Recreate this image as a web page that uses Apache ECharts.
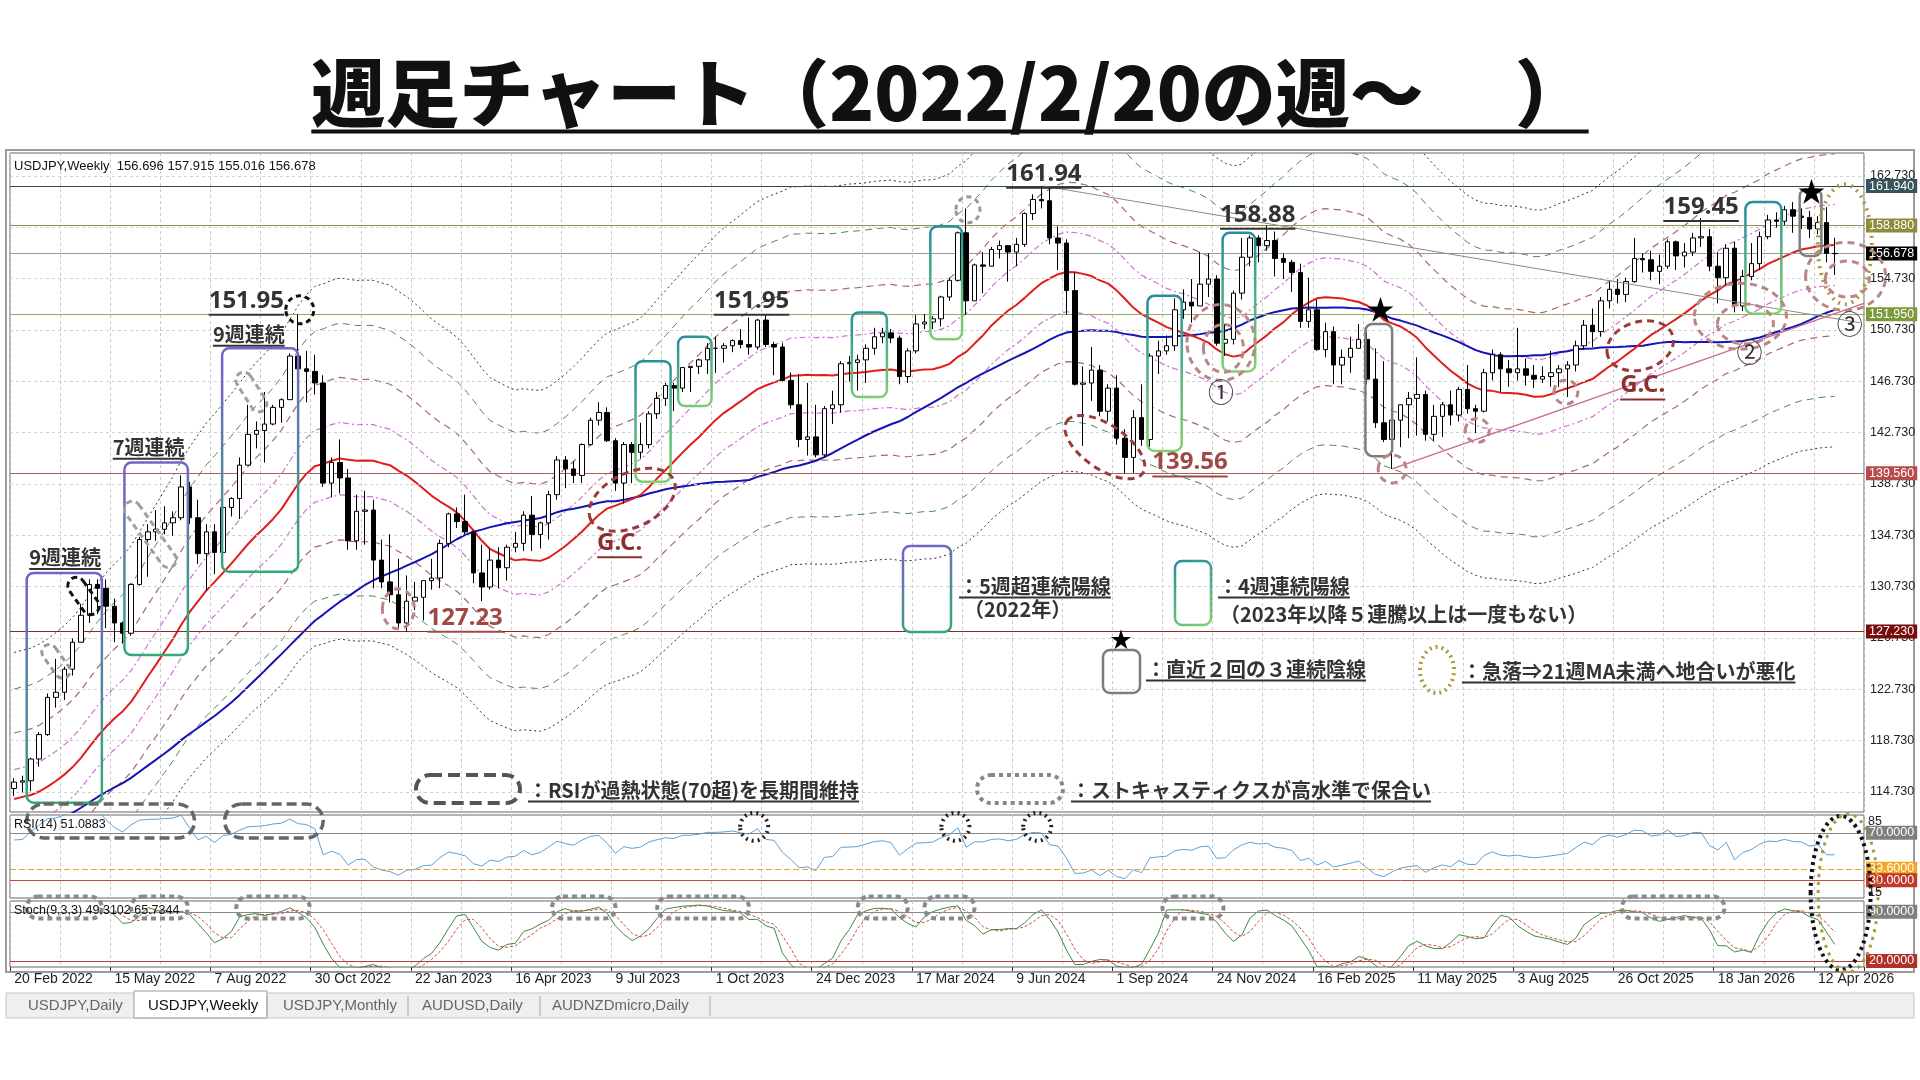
<!DOCTYPE html>
<html><head><meta charset="utf-8">
<script src="https://cdn.jsdelivr.net/npm/echarts@6/dist/echarts.min.js"></script>
<style>html,body{margin:0;padding:0;background:#fff}#c{width:1920px;height:1080px}</style>
</head><body><div id="c"></div>
<script>
// ---------- DATA ----------
const priorCloses=[105.6,108.3,109.0,108.9,109.6,110.3,109.7,108.8,107.9,109.3,108.6,109.4,108.9,109.8,109.5,109.7,110.2,110.8,111.1,110.1,110.1,110.5,109.7,110.2,109.6,109.8,109.8,109.7,109.9,109.9,110.7,111.0,112.2,114.2,113.5,114.0,113.4,113.9,114.0,113.4,112.8,113.4,113.7,114.4,115.1,115.6,114.2,113.7,115.3,115.2,115.4,115.0];
const closes=[115.5,115.6,117.3,119.2,122.1,122.5,124.3,126.4,128.5,130.9,
130.6,129.2,127.9,127.1,130.9,134.4,135.0,135.2,135.7,136.1,
138.5,136.1,133.3,135.0,133.4,136.9,137.6,140.2,142.6,142.9,
143.4,144.7,145.3,148.7,147.7,147.5,146.6,138.8,140.4,139.2,
134.3,136.6,136.7,132.8,131.1,
130.1,127.9,129.6,129.9,131.2,131.4,134.1,136.4,135.8,135.0,
131.8,130.7,132.8,132.2,133.8,134.1,136.3,134.8,135.7,137.9,
140.6,139.9,139.4,141.8,143.7,144.3,142.1,138.8,141.8,141.2,
141.8,144.2,145.4,146.4,146.2,147.8,147.9,148.4,149.3,149.3,
149.5,149.9,149.6,149.4,151.5,149.6,149.4,146.8,144.9,142.2,
142.4,141.0,144.6,
144.9,148.1,148.2,148.4,149.3,150.2,150.5,150.1,147.1,149.1,
151.2,151.35,151.6,153.3,154.6,158.3,153.0,155.8,155.7,157.0,
157.3,156.8,157.4,159.8,160.9,160.8,157.9,157.5,153.8,146.5,
146.6,147.6,144.4,146.2,142.3,140.8,143.9,142.2,148.7,149.1,
149.5,152.3,152.9,152.6,154.3,154.7,149.7,150.0,153.6,156.4,
157.9,157.3,
157.7,156.3,156.0,155.2,151.4,152.3,149.2,150.6,148.0,148.6,
149.3,150.0,146.9,143.5,142.2,143.7,144.9,145.4,145.7,142.6,
144.0,144.9,144.1,146.1,144.6,144.4,147.4,148.8,147.7,147.4,
147.7,147.2,146.9,147.1,147.4,147.7,148.0,149.5,
151.1,150.6,153.0,153.9,153.5,154.5,156.3,156.2,155.3,155.7,
157.6,156.5,156.8,157.9,158.0,155.7,154.8,157.1,152.6,154.9,
155.9,158.0,159.3,159.2,160.1,159.6,159.5,158.6,159.1,156.696,156.678];
const highs=[115.8,116.0,117.4,119.4,122.4,125.1,124.5,126.7,129.4,131.3,
131.3,131.3,129.8,128.0,131.0,134.6,135.6,136.7,137.0,136.6,
139.4,138.9,137.5,135.6,135.6,137.0,137.7,140.8,144.9,143.6,
145.9,144.9,145.4,148.9,151.95,149.1,148.8,147.2,140.8,142.2,
139.9,137.9,138.2,137.5,134.4,
134.8,132.9,131.6,131.1,131.2,132.9,134.4,136.5,136.9,137.9,
135.1,134.0,133.7,133.8,134.0,135.0,136.6,137.8,135.8,138.2,
140.9,140.9,140.5,141.9,143.9,145.1,144.7,142.3,142.0,142.0,
143.5,144.4,145.9,146.6,146.6,147.8,147.9,148.5,149.7,150.2,
149.7,150.0,150.8,151.7,151.6,151.95,149.8,149.7,147.4,147.3,
146.6,144.9,144.8,
146.0,148.3,148.7,148.8,149.6,150.9,150.9,150.8,150.3,149.3,
151.9,151.97,151.8,153.4,154.8,158.4,160.2,155.9,156.8,157.2,
157.7,157.3,157.9,159.9,161.3,161.94,161.8,158.8,157.8,155.2,
147.9,149.4,148.0,146.5,147.2,143.0,144.5,146.5,148.9,149.9,
150.3,153.2,153.9,154.7,156.8,156.7,155.0,151.2,153.8,157.9,
158.1,158.1,
158.88,158.4,156.7,156.2,155.9,154.8,153.1,151.3,151.0,149.2,
150.2,151.2,150.6,149.3,148.3,143.7,144.9,145.9,148.6,146.0,
144.9,145.1,146.0,146.3,148.0,144.9,147.7,149.2,149.0,148.4,
150.9,148.5,148.0,147.9,149.1,148.0,148.3,149.9,
151.5,152.4,153.3,154.5,154.7,154.8,157.9,156.7,156.9,156.6,
157.8,157.7,157.5,158.3,159.45,158.6,156.8,157.4,157.6,155.4,
157.5,158.4,159.7,159.9,160.4,160.7,160.2,160.0,159.6,160.3,157.915];
const lows=[114.4,114.7,114.8,116.7,119.1,121.3,121.9,123.8,126.5,127.9,
128.6,127.5,126.4,126.3,126.9,130.8,131.5,134.3,134.8,134.7,
135.9,135.6,132.5,130.4,131.7,132.6,136.2,136.0,140.2,141.5,
140.4,143.3,143.5,145.3,146.2,145.1,145.7,138.5,137.7,138.0,
133.6,133.6,134.0,130.6,130.6,
129.5,127.5,127.23,128.9,128.1,130.5,130.6,133.8,135.3,134.8,
131.0,129.6,130.5,130.6,131.2,133.4,133.5,133.5,133.7,134.4,
137.5,138.4,138.8,138.8,141.7,143.3,142.0,138.2,137.2,138.8,
140.7,141.5,143.8,144.8,144.4,145.9,145.9,147.3,147.3,147.4,
148.2,149.0,149.3,148.8,149.2,149.4,147.2,146.7,144.6,141.6,
140.95,140.8,140.8,
143.4,144.3,146.7,146.0,146.6,148.8,149.7,149.7,146.5,146.6,
148.9,150.8,150.8,151.0,153.0,154.5,151.9,153.1,153.6,155.7,
156.3,154.5,155.7,157.2,159.3,160.2,157.4,155.4,151.9,146.4,
141.7,145.2,144.0,143.6,141.8,139.56,139.6,141.7,141.6,147.3,
148.8,149.1,151.6,151.3,152.7,153.3,149.5,148.7,149.6,153.1,
155.7,156.0,
156.9,154.9,154.7,153.7,150.9,150.9,149.1,148.6,146.5,146.5,
147.4,149.4,146.5,143.1,142.0,139.9,141.6,142.3,142.5,142.1,
142.1,142.4,143.3,143.6,144.2,142.7,144.3,146.8,145.9,146.3,
146.8,146.4,146.2,146.6,146.3,146.3,145.5,147.5,
149.2,149.4,150.2,152.4,152.8,152.9,154.4,155.2,154.6,154.3,
155.5,155.4,155.6,156.5,157.2,155.3,152.8,154.2,152.1,152.2,
154.6,155.4,157.8,158.7,158.9,158.3,158.6,157.9,158.2,156.0,155.016];
const dateLabels=['20 Feb 2022','15 May 2022','7 Aug 2022','30 Oct 2022','22 Jan 2023','16 Apr 2023','9 Jul 2023','1 Oct 2023','24 Dec 2023','17 Mar 2024','9 Jun 2024','1 Sep 2024','24 Nov 2024','16 Feb 2025','11 May 2025','3 Aug 2025','26 Oct 2025','18 Jan 2026','12 Apr 2026'];
const priceTicks=[114.73,118.73,122.73,126.73,130.73,134.73,138.73,142.73,146.73,150.73,154.73,158.73,162.73];
const envelopePct=[2,4.5,7.5,10];
const levels=[{v:161.94,c:'#2f4f4f',bg:'#37545a'},{v:158.88,c:'#8f8f5a',bg:'#8c8c3c'},{v:156.678,c:'#999',bg:'#000'},{v:151.95,c:'#9aa860',bg:'#7c9a3a'},{v:139.56,c:'#a86060',bg:'#b84a4a'},{v:127.23,c:'#8a2a2a',bg:'#7a0c0c'}];
const SLOTS=222;
// ---------- INDICATORS ----------
const N=closes.length, P=priorCloses.length;
const allC=priorCloses.concat(closes);
const opens=closes.map((c,i)=>i===0?priorCloses[P-1]:closes[i-1]);
function sma(n,i){let s=0;for(let k=i+P-n+1;k<=i+P;k++)s+=allC[k];return s/n;}
const ma21=[],ma52=[];
for(let i=0;i<N;i++){ma21.push(sma(21,i));ma52.push(sma(52,i));}
const env=envelopePct.map(p=>({up:ma21.map(m=>m*(1+p/100)),dn:ma21.map(m=>m*(1-p/100))}));
// RSI 14 Wilder
const rsi=[];{let ag=0,al=0;for(let k=1;k<allC.length;k++){const d=allC[k]-allC[k-1];const g=Math.max(d,0),l=Math.max(-d,0);
if(k<=14){ag+=g/14;al+=l/14;}else{ag=(ag*13+g)/14;al=(al*13+l)/14;}
if(k>=P)rsi.push(al===0?100:100-100/(1+ag/al));}}
// Stoch 9,3,3
const H=closes.map((c,i)=>Math.max(highs[i],opens[i],c)),L=closes.map((c,i)=>Math.min(lows[i],opens[i],c));
const num=[],den=[],K=[],D=[];
for(let i=0;i<N;i++){if(i<8){num.push(null);den.push(null);continue;}let hh=-1e9,ll=1e9;for(let k=i-8;k<=i;k++){hh=Math.max(hh,H[k]);ll=Math.min(ll,L[k]);}num.push(closes[i]-ll);den.push(hh-ll);}
for(let i=0;i<N;i++){if(i<10){K.push(null);continue;}let a=0,b=0;for(let k=i-2;k<=i;k++){a+=num[k];b+=den[k];}K.push(100*a/b);}
for(let i=0;i<N;i++){if(i<12){D.push(null);continue;}D.push((K[i]+K[i-1]+K[i-2])/3);}
const candle=closes.map((c,i)=>[opens[i],c,L[i],H[i]]);
// ---------- CHART ----------
const cats=Array.from({length:SLOTS},(_,i)=>String(i));
const chart=echarts.init(document.getElementById('c'));
const F='"Noto Sans CJK JP","Noto Sans",sans-serif';
const grids=[{left:10,top:153,width:1854,height:659},{left:10,top:815,width:1854,height:83},{left:10,top:901,width:1854,height:66}];
const vsplit={show:true,interval:(i)=>i%6===0,lineStyle:{color:'#c8c8c8',type:[3,3],width:1}};
const xA=grids.map((g,gi)=>({type:'category',gridIndex:gi,data:cats,boundaryGap:true,axisLine:{show:false},axisTick:{show:gi===2,interval:(i)=>i%12===0,length:4,lineStyle:{color:'#333'}},
 axisLabel:{show:gi===2,interval:(i)=>i%12===0,formatter:(v,i)=>dateLabels[i/12]||'',align:'left',margin:5,fontSize:14,color:'#222',fontFamily:'Liberation Sans, Arial'},splitLine:vsplit}));
const yA=[{gridIndex:0,min:113.17,max:164.52,show:false},{gridIndex:1,min:15,max:85,show:false},{gridIndex:2,min:11.5,max:105.4,show:false}];
const mkLbl=(txt,bg,fg)=>({show:true,position:'end',formatter:txt,backgroundColor:bg,color:fg||'#fff',padding:[1,3,0,3],fontSize:12.5,distance:2,fontFamily:'Liberation Sans, Arial'});
const tickLines=priceTicks.map(v=>({yAxis:v,lineStyle:{color:'#d0d0d0',type:[3,3],width:1},label:{show:true,position:'end',formatter:v.toFixed(3),color:'#222',fontSize:12.5,distance:6,fontFamily:'Liberation Sans, Arial'}}));
const levelLines=levels.map(l=>({yAxis:l.v,lineStyle:{color:l.c,type:'solid',width:1.2},label:mkLbl(l.v.toFixed(3),l.bg)}));
const ln=(data,color,type,w,gi,z)=>({type:'line',data,xAxisIndex:gi||0,yAxisIndex:gi||0,symbol:'none',smooth:false,lineStyle:{color,type,width:w||1},z:z||2,silent:true,animation:false});
const envStyle=[['#d070d8',[6,3,2,3],1.2],['#a86a6a',[7,5],1.2],['#4b8a4b',[7,5],1],['#333',[2,3],1]];
const series=[{type:'line',data:[],xAxisIndex:0,yAxisIndex:0,z:1,markLine:{symbol:'none',silent:true,animation:false,data:tickLines}}];
env.forEach((e,k)=>{const s=envStyle[k];series.push(ln(e.up,s[0],s[1],s[2]),ln(e.dn,s[0],s[1],s[2]));});
series.push(
 ln(ma52,'#1414b4','solid',2,0,4),ln(ma21,'#e01c1c','solid',2,0,4),
 {type:'candlestick',data:candle,xAxisIndex:0,yAxisIndex:0,barWidth:5,z:5,animation:false,
  itemStyle:{color:'#fff',color0:'#000',borderColor:'#000',borderColor0:'#000',borderWidth:1},
  markLine:{symbol:'none',silent:true,animation:false,data:levelLines}},
 Object.assign(ln(rsi,'#5ba0d8','solid',1,1),{markLine:{symbol:'none',silent:true,animation:false,data:[
  {yAxis:70,lineStyle:{color:'#888',type:'solid',width:1.2},label:mkLbl('70.0000','#7f7f7f')},
  {yAxis:39.6,lineStyle:{color:'#f0a030',type:[6,3],width:1},label:mkLbl('39.6000','#f5a623')},
  {yAxis:30,lineStyle:{color:'#c04a4a',type:'solid',width:1},label:mkLbl('30.0000','#c0392b')}]}}),
 Object.assign(ln(K,'#3d8b3d','solid',1,2),{markLine:{symbol:'none',silent:true,animation:false,data:[
  {yAxis:90,lineStyle:{color:'#888',type:'solid',width:1.2},label:mkLbl('90.0000','#7f7f7f')},
  {yAxis:20,lineStyle:{color:'#b04040',type:'solid',width:1},label:mkLbl('20.0000','#b0302a')}]}}),
 ln(D,'#d04848',[3,2],1,2)
);
chart.setOption({animation:false,grid:grids.map(g=>Object.assign({show:true,borderColor:'#666',borderWidth:1},g)),xAxis:xA,yAxis:yA,series});

// ---------- ANNOTATIONS ----------
const ctx=document.createElement('canvas').getContext('2d');
const x0=chart.convertToPixel({xAxisIndex:0,yAxisIndex:0},[0,130])[0];
const dx=chart.convertToPixel({xAxisIndex:0,yAxisIndex:0},[1,130])[0]-x0;
const X=i=>x0+dx*i, Y=p=>chart.convertToPixel({xAxisIndex:0,yAxisIndex:0},[0,p])[1];
const G=[];
function T(x,y,text,o={}){const size=o.size||20,wt=o.weight||'bold',color=o.color||'#333',align=o.align||'left';const font=`${wt} ${size}px ${o.font||F}`;
 G.push({type:'text',x,y,z:60,style:{text,fill:color,font,align,verticalAlign:'middle'}});
 if(o.ul){ctx.font=font;const w=ctx.measureText(text).width;const xs=align==='center'?x-w/2:x;const yy=y+size*(o.ulo||0.58);
 G.push({type:'line',z:60,shape:{x1:xs,y1:yy,x2:xs+w,y2:yy},style:{stroke:color,lineWidth:o.ulw||2}});}}
function R(x1,y1,x2,y2,stroke,o={}){G.push({type:'rect',z:55,shape:{x:Math.min(x1,x2),y:Math.min(y1,y2),width:Math.abs(x2-x1),height:Math.abs(y2-y1),r:o.r||7},style:{fill:'none',stroke,lineWidth:o.w||2.5,lineDash:o.dash||null}});}
function CAP(cx,cy,w,h,rot,stroke,dash,lw){G.push({type:'rect',z:55,x:cx,y:cy,rotation:rot||0,shape:{x:-w/2,y:-h/2,width:w,height:h,r:h/2},style:{fill:'none',stroke,lineWidth:lw||3,lineDash:dash}});}
function E(cx,cy,rx,ry,stroke,o={}){G.push({type:'ellipse',z:55,x:cx,y:cy,rotation:o.rot||0,shape:{cx:0,cy:0,rx,ry},style:{fill:'none',stroke,lineWidth:o.w||3,lineDash:o.dash===undefined?[7,5]:o.dash}});}
function LN(x1,y1,x2,y2,stroke,w){G.push({type:'line',z:54,shape:{x1,y1,x2,y2},style:{stroke,lineWidth:w||1}});}
const grad=(a,b)=>new echarts.graphic.LinearGradient(0,0,1,1,[{offset:0,color:a},{offset:1,color:b}]);
const PUR=()=>grad('#7a5cd0','#2fb070'), TEAL=()=>grad('#1e8c9e','#86d46a');
const purpleBoxes=[[1.5,10.5,131.8,113.9],[13.2,20.8,140.4,125.4],[24.9,34,149.3,131.9]];
const tealBoxes=[[74.4,78.6,148.3,138.9],[79.5,83.5,150.2,144.8],[100.3,104.5,152.1,145.5],[109.7,113.5,158.8,150.0],[135.7,139.8,153.4,141.3],[144.7,148.6,158.3,147.5],[207.3,211.6,160.7,152.0]];
const grayBoxes=[[161.8,165,151.2,140.9],[213.8,216.4,161.7,156.5]];
purpleBoxes.forEach(b=>R(X(b[0]),Y(b[2]),X(b[1]),Y(b[3]),PUR()));
tealBoxes.forEach(b=>R(X(b[0]),Y(b[2]),X(b[1]),Y(b[3]),TEAL()));
grayBoxes.forEach(b=>R(X(b[0]),Y(b[2]),X(b[1]),Y(b[3]),'#7d7d7d'));
LN(X(123.3),Y(161.94),X(221),Y(151.3),'#8a8a8a',1);
LN(X(165),Y(139.9),X(221.5),Y(152.8),'#c86a8a',1.3);
const BR='#9b3a3a', BRL='#b98585';
E(X(74),Y(137.5),46,27,BR,{rot:0.45});
E(X(194.7),Y(149.5),34,24,BR,{rot:0.3});
E(X(130.6),Y(141.6),46,22,BR,{rot:-0.6});
E(X(46),Y(129.0),16,20,BRL,{w:3});
E(X(144.5),Y(149.75),34,38,BRL);E(X(144.8),Y(149.3),20,24,BRL);
E(X(206.7),Y(151.8),46,33,BRL);E(X(207.3),Y(151.2),28,20,BRL);
E(X(219.3),Y(154.9),40,34,BRL);E(X(219.5),Y(154.7),22,18,BRL);
[[165,139.9,14],[175.2,142.9,12],[185.8,145.9,12]].forEach(c=>E(X(c[0]),Y(c[1]),c[2],c[2],BRL,{w:3}));
E(X(34.2),Y(152.3),14,14,'#111',{w:3,dash:[5,4]});
E(X(114.2),Y(160.1),12,13,'#999',{w:3,dash:[5,4]});
E(X(219.2),Y(157.4),27,60,'#a89a3a',{w:4,dash:[2,5]});
CAP(X(8.3),Y(130.0),42,17,-0.95,'#111',[6,4],3);
CAP(X(5),Y(124.9),38,15,-0.95,'#9a9a9a',[6,4],3);
CAP(X(16.3),Y(134.8),78,16,-0.95,'#a0a0a0',[6,4],3);
CAP(X(28.4),Y(145.9),44,16,-1.0,'#a0a0a0',[6,4],3);
const yR=v=>chart.convertToPixel({xAxisIndex:1,yAxisIndex:1},[0,v])[1];
const yS=v=>chart.convertToPixel({xAxisIndex:2,yAxisIndex:2},[0,v])[1];
[[1.5,21.6],[25.2,37]].forEach(r=>CAP((X(r[0])+X(r[1]))/2,yR(80),X(r[1])-X(r[0]),34,0,'#666',[10,5],3.5));
[88.6,112.7,122.5].forEach(i=>E(X(i),yR(75),14,14,'#222',{w:4,dash:[2,4]}));
[[1.5,10.5],[14,20.8],[26.6,35.4],[64.4,72],[77,88],[101,107],[109,115],[137.5,144.8],[192.5,204.8]].forEach(r=>CAP((X(r[0])+X(r[1]))/2,yS(96),X(r[1])-X(r[0]),22,0,'#8a8a8a',[5,4],4));
E(X(218.7),(yR(85)+yS(11.5))/2+2,30,77,'#111',{w:4,dash:[3,4]});
E(X(219.6),(yR(85)+yS(11.5))/2+2,30,79,'#a89a3a',{w:3,dash:[3,5]});
T(X(163.6),Y(152.3),'★',{size:28,color:'#000',align:'center',weight:'normal'});
T(X(215.2),Y(161.5),'★',{size:28,color:'#000',align:'center',weight:'normal'});
const NF='"Noto Sans","DejaVu Sans",sans-serif';
T(X(123.3),Y(162.9),'161.94',{size:24,align:'center',ul:true,font:NF,color:'#333'});
T(X(148.9),Y(159.7),'158.88',{size:24,align:'center',ul:true,font:NF,color:'#333'});
T(X(27.8),Y(153.0),'151.95',{size:24,align:'center',ul:true,font:NF,color:'#333'});
T(X(88.3),Y(153.0),'151.95',{size:24,align:'center',ul:true,font:NF,color:'#333'});
T(X(202),Y(160.3),'159.45',{size:24,align:'center',ul:true,font:NF,color:'#333'});
T(X(140.8),Y(140.4),'139.56',{size:24,align:'center',ul:true,font:NF,color:'#a04848'});
T(X(54),Y(128.3),'127.23',{size:24,align:'center',ul:true,font:NF,color:'#a04848'});
T(X(72.5),Y(134.1),'G.C.',{size:24,align:'center',ul:true,font:NF,color:'#8b2f2f'});
T(X(195),Y(146.4),'G.C.',{size:24,align:'center',ul:true,font:NF,color:'#8b2f2f'});
T(X(6.1),Y(133.0),'9週連続',{size:20,align:'center',ul:true});
T(X(16.1),Y(141.6),'7週連続',{size:20,align:'center',ul:true});
T(X(28.1),Y(150.4),'9週連続',{size:20,align:'center',ul:true});
T(X(144.5),Y(145.9),'①',{size:26,align:'center',weight:'normal',color:'#333'});
T(X(207.8),Y(149.0),'②',{size:26,align:'center',weight:'normal',color:'#333'});
T(X(219.8),Y(151.2),'③',{size:26,align:'center',weight:'normal',color:'#333'});
R(903,546,951,632,PUR());
T(959,586,'：5週超連続陽線',{size:20,ul:true});T(964,609,'（2022年）',{size:20,weight:'bold'});
R(1175,561,1211,625,TEAL());
T(1218,586,'：4週連続陽線',{size:20,ul:true});T(1220,614,'（2023年以降５連騰以上は一度もない）',{size:20});
T(1121,639,'★',{size:22,align:'center',color:'#000',weight:'normal'});R(1103,650,1140,693,'#7d7d7d');
T(1146,669,'：直近２回の３連続陰線',{size:20,ul:true});
E(1437,670,17,23,'#a89a3a',{w:4,dash:[2,4]});
T(1462,671,'：急落⇒21週MA未満へ地合いが悪化',{size:20,ul:true});
CAP(468,789,104,28,0,'#555',[12,6],4);
T(528,790,'：RSIが過熱状態(70超)を長期間維持',{size:20,ul:true});
CAP(1020,789,86,28,0,'#888',[4,4],4);
T(1071,790,'：ストキャスティクスが高水準で保合い',{size:20,ul:true});
T(950,93,'週足チャート（2022/2/20の週～　 ）',{size:74,weight:'900',align:'center',color:'#111',ul:true,ulw:4,ulo:0.52});
const LF='"Liberation Sans",Arial,sans-serif';
T(14,166,'USDJPY,Weekly  156.696 157.915 155.016 156.678',{size:13,weight:'normal',color:'#111',font:LF});
T(14,825,'RSI(14) 51.0883',{size:12.5,weight:'normal',color:'#111',font:LF});
T(14,911,'Stoch(9,3,3) 49.3102 65.7344',{size:12.5,weight:'normal',color:'#111',font:LF});
T(1868,822,'85',{size:12.5,weight:'normal',color:'#222',font:LF});
T(1868,893,'15',{size:12.5,weight:'normal',color:'#222',font:LF});
G.push({type:'rect',z:1,shape:{x:6,y:150,width:1908,height:822},style:{fill:'none',stroke:'#9a9a9a',lineWidth:2}});
G.push({type:'rect',z:1,shape:{x:6,y:993,width:1908,height:25},style:{fill:'#efefef',stroke:'#c8c8c8'}});
G.push({type:'rect',z:2,shape:{x:134,y:991,width:133,height:27},style:{fill:'#fff',stroke:'#999'}});
[['USDJPY,Daily',28],['USDJPY,Weekly',148],['USDJPY,Monthly',283],['AUDUSD,Daily',422],['AUDNZDmicro,Daily',552]].forEach((t,k)=>{T(t[1],1006,t[0],{size:15,weight:'normal',color:k===1?'#111':'#666',font:LF});});
[267,408,540,710].forEach(x=>LN(x,996,x,1016,'#aaa',1));
chart.setOption({graphic:{elements:G}});
</script></body></html>
